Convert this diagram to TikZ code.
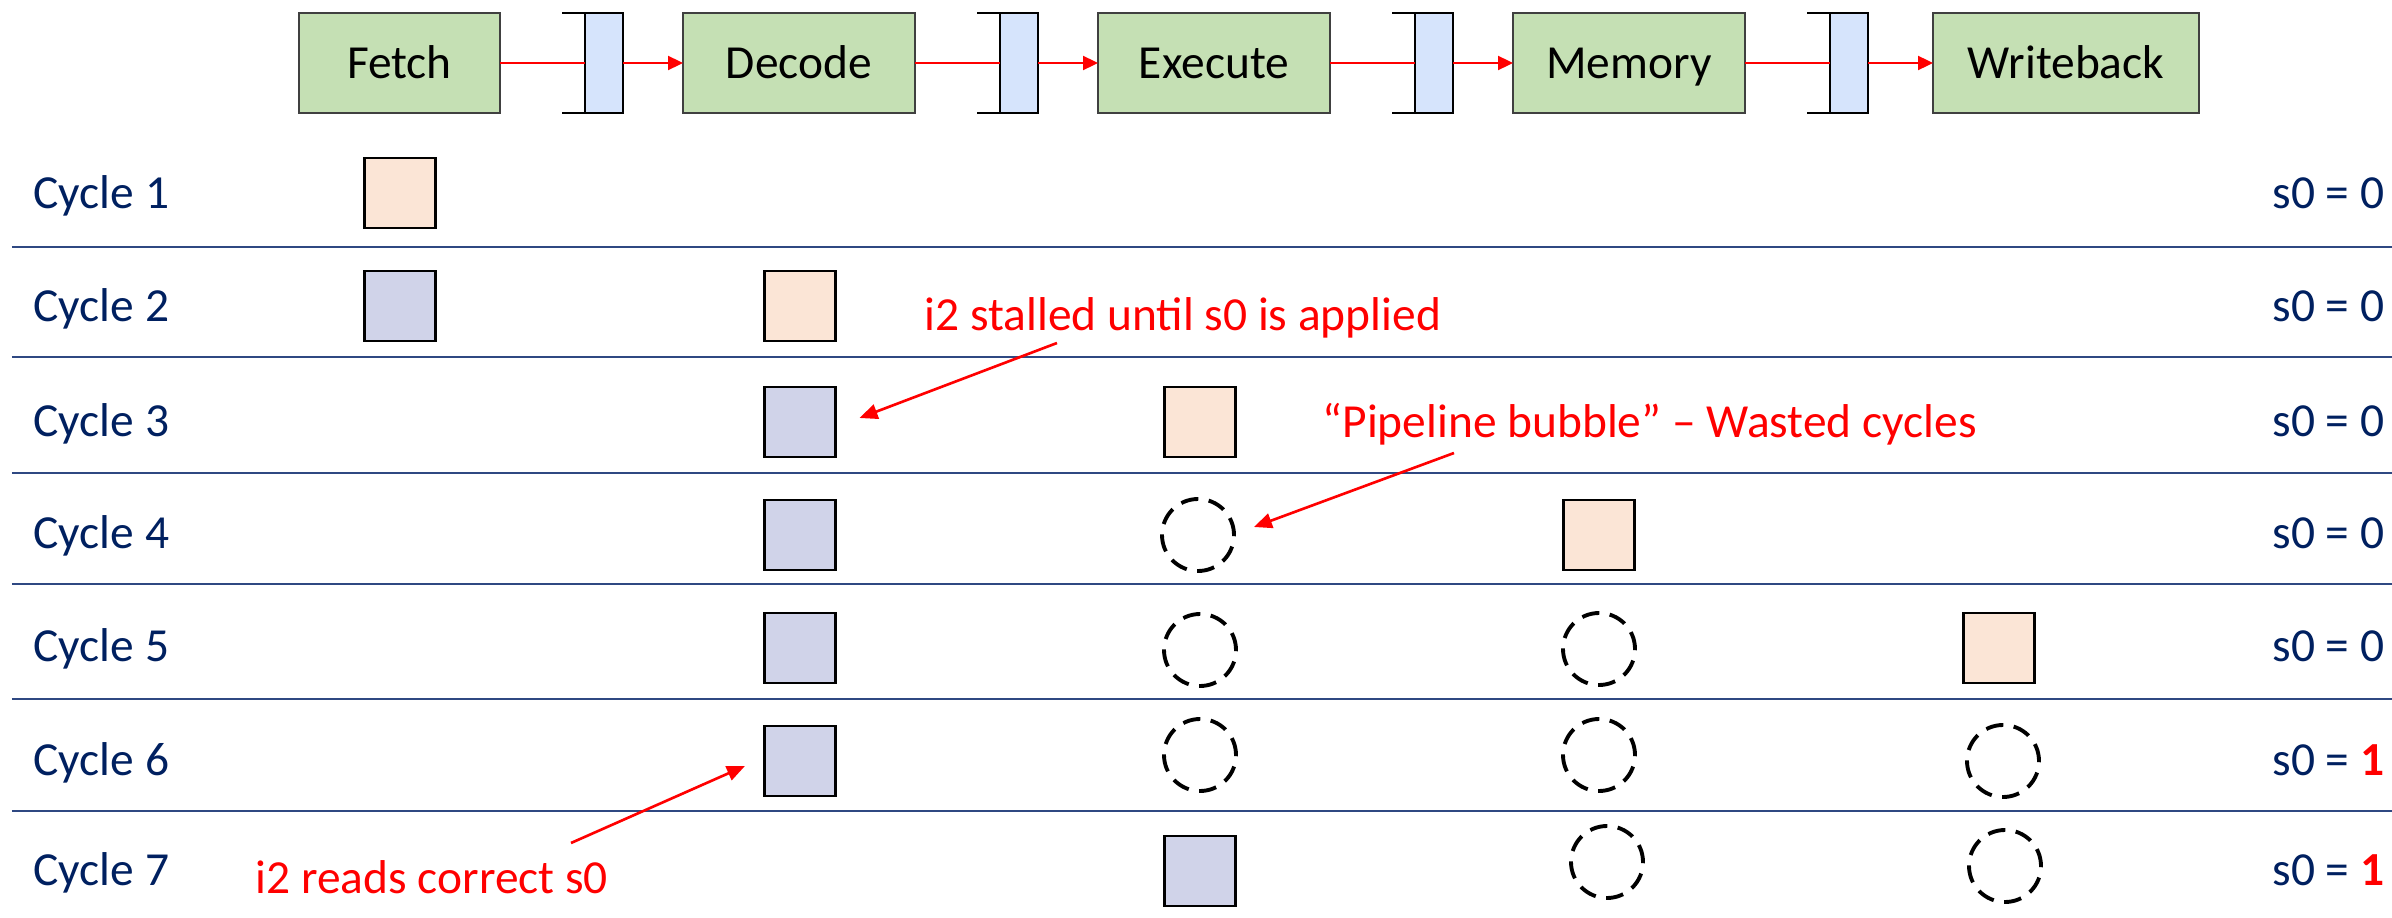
\documentclass[tikz,border=0pt]{standalone}
\usepackage{fontspec}
\setmainfont{Carlito}
\usetikzlibrary{positioning,arrows.meta}

\definecolor{stagefill}{RGB}{197,224,180}
\definecolor{stageedge}{RGB}{64,64,64}
\definecolor{latchfill}{RGB}{214,228,252}
\definecolor{oldinstr}{RGB}{251,229,214}
\definecolor{newinstr}{RGB}{208,211,233}
\definecolor{rulecol}{RGB}{47,72,130}
\definecolor{navy}{RGB}{0,32,96}

\newcommand{\regone}{\textbf{\textcolor{red}{1}}}

\tikzset{
  stage/.style={draw=stageedge, line width=0.7pt, fill=stagefill, minimum height=1cm, text height=8.7pt, text depth=0pt, inner sep=0pt, outer sep=0pt},
  latch/.style={draw=black, line width=0.7pt, fill=latchfill, minimum width=0.38cm, minimum height=1cm, inner sep=0pt, outer sep=0pt},
  flow/.style={red, line width=0.65pt},
  instr/.style={draw=black, line width=0.6pt, minimum width=0.71cm, minimum height=0.70cm, inner sep=0pt},
  oldi/.style={instr, fill=oldinstr},
  newi/.style={instr, fill=newinstr},
  bubble/.style={circle, draw=black, line width=1.1pt, dash pattern=on 5pt off 3pt, minimum size=0.72cm, inner sep=0pt},
  rowrule/.style={draw=rulecol, line width=0.6pt},
  cyclelbl/.style={anchor=base west, text=navy, inner sep=0pt},
  reglbl/.style={anchor=base east, text=navy, inner sep=0pt},
  note/.style={anchor=base west, text=red, inner sep=0pt},
  notearrow/.style={red, line width=0.75pt, -{Triangle[length=1.8mm,width=1.5mm]}}
}

\begin{document}
\begin{tikzpicture}[y=-1cm, font=\fontsize{13.5pt}{16pt}\selectfont]
\useasboundingbox (0,0) rectangle (23.92,9.18);

% five stages with the pipeline registers between them
\node[stage, minimum width=2.01cm] (fetch) at (3.995,0.63) {Fetch};
\node[latch, right=0.85cm of fetch] (ifid) {};
\node[stage, minimum width=2.32cm, right=0.6cm of ifid] (decode) {Decode};
\node[latch, right=0.85cm of decode] (idex) {};
\node[stage, minimum width=2.32cm, right=0.6cm of idex] (execute) {Execute};
\node[latch, right=0.85cm of execute] (exmem) {};
\node[stage, minimum width=2.32cm, right=0.6cm of exmem] (memory) {Memory};
\node[latch, right=0.85cm of memory] (memwb) {};
\node[stage, minimum width=2.66cm, right=0.65cm of memwb] (writeback) {Writeback};

\foreach \r in {ifid,idex,exmem,memwb} {
  \draw[line width=0.7pt] ([xshift=-2.3mm]\r.north west) -- (\r.north west);
  \draw[line width=0.7pt] ([xshift=-2.3mm]\r.south west) -- (\r.south west);
}

\draw[flow] (fetch) -- (ifid);
\draw[flow,-{Triangle[length=1.5mm,width=1.4mm]}] (ifid) -- (decode);
\draw[flow] (decode) -- (idex);
\draw[flow,-{Triangle[length=1.5mm,width=1.4mm]}] (idex) -- (execute);
\draw[flow] (execute) -- (exmem);
\draw[flow,-{Triangle[length=1.5mm,width=1.4mm]}] (exmem) -- (memory);
\draw[flow] (memory) -- (memwb);
\draw[flow,-{Triangle[length=1.5mm,width=1.4mm]}] (memwb) -- (writeback);

% one row per clock cycle
\foreach \y/\v [count=\c] in {1.93/0,3.06/0,4.21/0,5.33/0,6.46/0,7.60/\regone,8.70/\regone} {
  \node[cyclelbl] (cycle\c) at (0.33,\y+0.15) {Cycle \c};
  \node[reglbl] (sreg\c) at (23.85,\y+0.15) {s0 = \v};
}
\foreach \y in {2.47,3.57,4.73,5.84,6.99,8.11}
  \draw[rowrule] (0.12,\y) -- (23.92,\y);

% i1 (orange) and i2 (blue) moving through the stages
\node[oldi] (i1c1) at (4.00,1.93) {};
\node[newi] (i2c2) at (4.00,3.06) {};
\node[oldi] (i1c2) at (8.00,3.06) {};
\node[newi] (i2c3) at (8.00,4.22) {};
\node[oldi] (i1c3) at (12.00,4.22) {};
\node[newi] (i2c4) at (8.00,5.35) {};
\node[bubble] (bub4) at (11.98,5.35) {};
\node[oldi] (i1c4) at (15.99,5.35) {};
\node[newi] (i2c5) at (8.00,6.48) {};
\node[bubble] (bub5a) at (12.00,6.50) {};
\node[bubble] (bub5b) at (15.99,6.49) {};
\node[oldi] (i1c5) at (19.99,6.48) {};
\node[newi] (i2c6) at (8.00,7.61) {};
\node[bubble] (bub6a) at (12.00,7.55) {};
\node[bubble] (bub6b) at (15.99,7.55) {};
\node[bubble] (bub6c) at (20.03,7.61) {};
\node[newi] (i2c7) at (12.00,8.71) {};
\node[bubble] (bub7a) at (16.07,8.62) {};
\node[bubble] (bub7b) at (20.05,8.66) {};

% notes
\node[note] (stallnote) at (9.24,3.30) {i2 stalled until s0 is applied};
\node[note] (bubblenote) at (13.22,4.37) {“Pipeline bubble” – Wasted cycles};
\node[note] (readnote) at (2.55,8.93) {i2 reads correct s0};
\coordinate (stalltail) at (10.57,3.43);
\coordinate (bubbletail) at (14.54,4.53);
\coordinate (readtail) at (5.71,8.43);
\draw[notearrow] (stalltail) -- ([xshift=2.3mm,yshift=0.4mm]i2c3.east);
\draw[notearrow] (bubbletail) -- ([xshift=1.8mm,yshift=0.8mm]bub4.east);
\draw[notearrow] (readtail) -- ([xshift=-1.85mm,yshift=-0.5mm]i2c6.west);
\end{tikzpicture}
\end{document}
